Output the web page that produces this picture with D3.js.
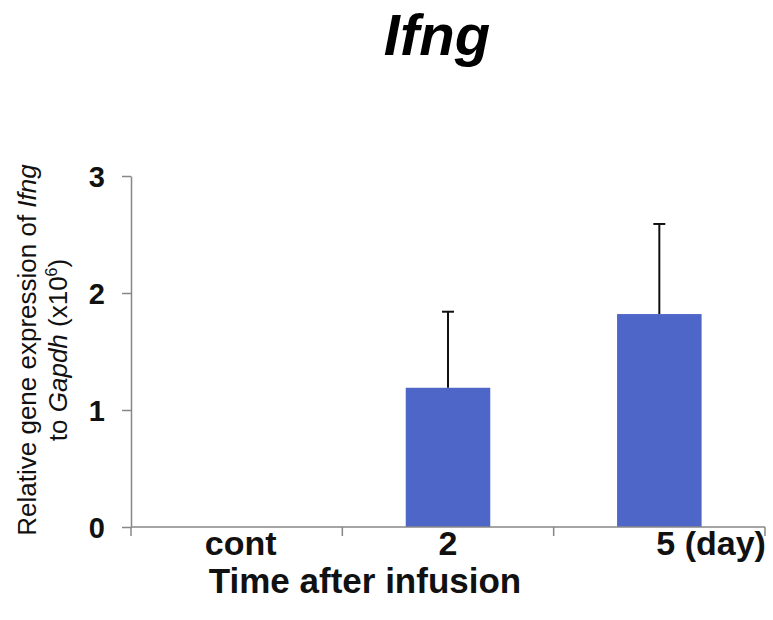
<!DOCTYPE html>
<html>
<head>
<meta charset="utf-8">
<script src="https://cdn.jsdelivr.net/npm/d3@7"></script>
<style>
  html, body { margin: 0; padding: 0; background: #fff; }
  svg { display: block; font-family: "Liberation Sans", Arial, sans-serif; }
</style>
</head>
<body>
<svg id="chart" width="773" height="620"></svg>
<script>
// ---- data ----
const categories = ["cont", "2", "5"];
const categoryLabels = ["cont", "2", "5 (day)"];
const means = [0, 1.19, 1.82];
const errorsUp = [0, 0.65, 0.77];
const yTicks = [0, 1, 2, 3];

const titleText = "Ifng";
const xTitle = "Time after infusion";

// ---- layout ----
const W = 773, H = 620;
const plot = { left: 131, right: 765, top: 176, bottom: 527 };
const svg = d3.select("#chart");

const x = d3.scaleBand().domain(categories)
  .range([plot.left, plot.right]).paddingInner(0.6).paddingOuter(0.3);
const y = d3.scaleLinear().domain([0, 3]).range([plot.bottom, plot.top]);

const axisColor = "#878787";
const barColor = "#4e66c7";

// title
svg.append("text")
  .attr("x", 437).attr("y", 55)
  .attr("text-anchor", "middle")
  .attr("font-size", 58).attr("font-weight", "bold").attr("font-style", "italic")
  .text(titleText);

// bars
svg.append("g").selectAll("rect")
  .data(categories.map((c, i) => ({ c, v: means[i], e: errorsUp[i] })))
  .join("rect")
  .attr("x", d => x(d.c))
  .attr("width", x.bandwidth())
  .attr("y", d => y(d.v))
  .attr("height", d => y(0) - y(d.v))
  .attr("fill", barColor);

// error bars (upper only)
const eb = svg.append("g").attr("stroke", "#111").attr("stroke-width", 2);
categories.forEach((c, i) => {
  if (errorsUp[i] <= 0) return;
  const cx = x(c) + x.bandwidth() / 2;
  eb.append("line").attr("x1", cx).attr("x2", cx)
    .attr("y1", y(means[i])).attr("y2", y(means[i] + errorsUp[i]));
  eb.append("line").attr("x1", cx - 6).attr("x2", cx + 6)
    .attr("y1", y(means[i] + errorsUp[i])).attr("y2", y(means[i] + errorsUp[i]));
});

// y axis
const yAxis = svg.append("g")
  .attr("transform", `translate(${plot.left},0)`)
  .call(d3.axisLeft(y).tickValues(yTicks).tickFormat(d3.format("d")).tickSize(9).tickSizeOuter(0).tickPadding(17));
yAxis.select(".domain").attr("stroke", axisColor).attr("stroke-width", 1.5);
yAxis.selectAll(".tick line").attr("stroke", axisColor).attr("stroke-width", 1.5);
yAxis.selectAll(".tick text")
  .attr("font-size", 29).attr("font-weight", "bold").attr("fill", "#111")
  .attr("font-family", "'Liberation Sans', Arial, sans-serif")
  .attr("dy", "0.36em");

// x axis line and boundary ticks
const xg = svg.append("g");
xg.append("line")
  .attr("x1", plot.left).attr("x2", plot.right)
  .attr("y1", y(0)).attr("y2", y(0))
  .attr("stroke", axisColor).attr("stroke-width", 1.5);
const step = x.step();
const boundaries = categories.map(c => x(c) + x.bandwidth() / 2 - step / 2)
  .concat([x(categories[categories.length - 1]) + x.bandwidth() / 2 + step / 2]);
xg.selectAll("line.b").data(boundaries).join("line").attr("class", "b")
  .attr("x1", d => d).attr("x2", d => d)
  .attr("y1", y(0)).attr("y2", y(0) + 9)
  .attr("stroke", axisColor).attr("stroke-width", 1.5);

// category labels
xg.selectAll("text.cat").data(categories).join("text").attr("class", "cat")
  .attr("x", (d, i) => x(d) + x.bandwidth() / 2 + (i === categories.length - 1 ? -3 : (i === 0 ? 4 : 0)))
  .attr("y", 555)
  .attr("text-anchor", (d, i) => i === categories.length - 1 ? "start" : "middle")
  .attr("font-size", 34).attr("font-weight", "bold").attr("fill", "#111")
  .text((d, i) => categoryLabels[i]);

// x title
svg.append("text")
  .attr("x", 365).attr("y", 593)
  .attr("text-anchor", "middle")
  .attr("font-size", 35).attr("font-weight", "bold").attr("fill", "#111")
  .text(xTitle);

// y title (two lines, rotated)
const yMid = 350;
const yt1 = svg.append("text")
  .attr("transform", `translate(36,${yMid}) rotate(-90)`)
  .attr("text-anchor", "middle")
  .attr("font-size", 26).attr("fill", "#111");
yt1.append("tspan").text("Relative gene expression of ");
yt1.append("tspan").attr("font-style", "italic").text("Ifng");

const yt2 = svg.append("text")
  .attr("transform", `translate(67,${yMid}) rotate(-90)`)
  .attr("text-anchor", "middle")
  .attr("font-size", 26).attr("fill", "#111");
yt2.append("tspan").text("to ");
yt2.append("tspan").attr("font-style", "italic").text("Gapdh");
yt2.append("tspan").text(" (x10");
yt2.append("tspan").attr("font-size", 16).attr("dy", -10).text("6");
yt2.append("tspan").attr("dy", 10).text(")");
</script>
</body>
</html>
